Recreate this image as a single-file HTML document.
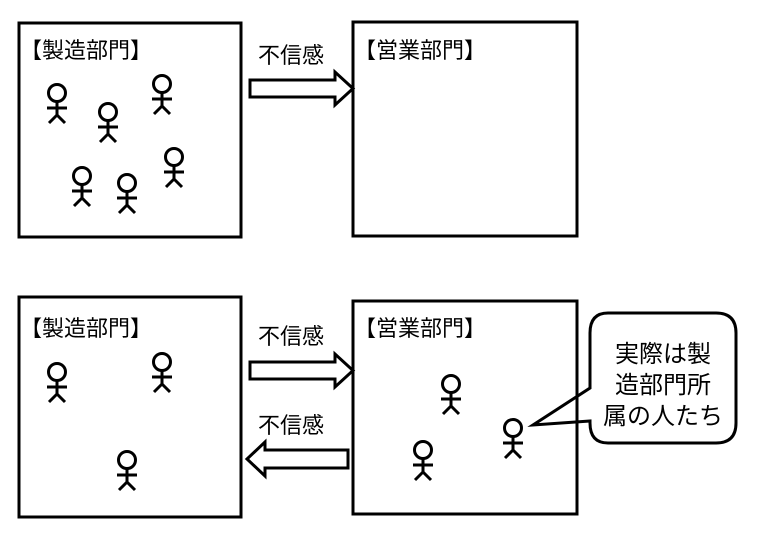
<!DOCTYPE html>
<html><head><meta charset="utf-8"><style>
body{margin:0;background:#fff}
text{font-family:"Liberation Sans","Noto Sans CJK JP",sans-serif;fill:#000}
</style></head><body>
<svg width="758" height="554" viewBox="0 0 758 554" xmlns="http://www.w3.org/2000/svg">
<defs>
<g id="p" fill="none" stroke="#000" stroke-width="3">
<circle cx="0" cy="0" r="8.5"/>
<line x1="0" y1="8.5" x2="0" y2="22"/>
<line x1="-10" y1="15" x2="10" y2="15"/>
<line x1="-8" y1="30" x2="0" y2="22"/>
<line x1="8" y1="30" x2="0" y2="22"/>
</g>
</defs>
<g fill="none" stroke="#000" stroke-width="3">
<rect x="19" y="23" width="222" height="214"/>
<rect x="353" y="22" width="224" height="214"/>
<rect x="19" y="297" width="222" height="220"/>
<rect x="353" y="301" width="224" height="213"/>
<polygon points="250,80 335,80 335,72 353,88.5 335,105 335,97 250,97"/>
<polygon points="250,362 335,362 335,354 353,370.5 335,387 335,379 250,379"/>
<polygon points="348,450 265,450 265,442 247,459 265,476 265,468 348,468"/>
<path d="M608,313 H716 Q736,313 736,333 V423 Q736,443 716,443 H608 Q590,443 590,423 V421 L533,425 L590,388 V333 Q590,313 608,313 Z"/>
</g>
<use href="#p" x="57" y="93"/><use href="#p" x="108" y="112"/><use href="#p" x="162" y="84"/>
<use href="#p" x="82" y="176"/><use href="#p" x="127" y="183"/><use href="#p" x="174" y="157"/>
<use href="#p" x="57" y="372"/><use href="#p" x="162" y="362"/><use href="#p" x="127" y="460"/>
<use href="#p" x="451" y="384"/><use href="#p" x="423" y="450"/><use href="#p" x="513" y="428"/>
<g font-size="22">
<text x="20" y="58">【製造部門】</text>
<text x="354" y="58">【営業部門】</text>
<text x="20" y="336">【製造部門】</text>
<text x="354" y="336">【営業部門】</text>
<text x="258" y="63">不信感</text>
<text x="258" y="344">不信感</text>
<text x="258" y="433">不信感</text>
</g>
<g font-size="24" text-anchor="middle">
<text x="663" y="362">実際は製</text>
<text x="663" y="393">造部門所</text>
<text x="663" y="424">属の人たち</text>
</g>
</svg>
</body></html>
